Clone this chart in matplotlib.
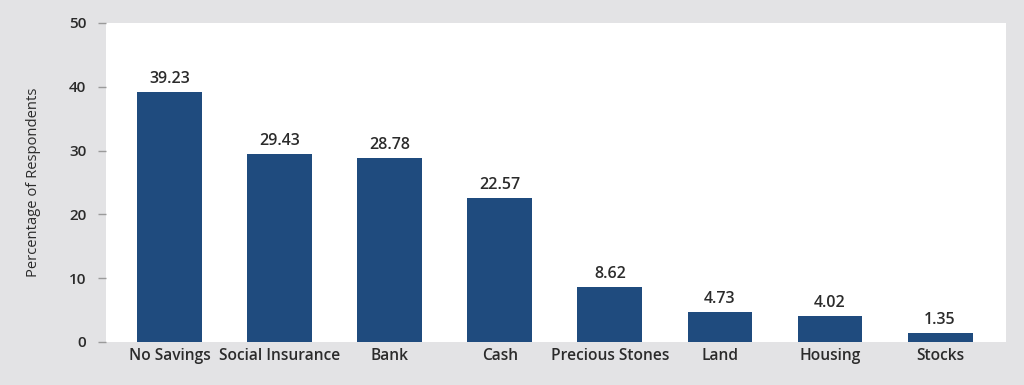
import matplotlib
matplotlib.use("Agg")
import matplotlib.pyplot as plt

categories = ["No Savings", "Social Insurance", "Bank", "Cash",
              "Precious Stones", "Land", "Housing", "Stocks"]
values = [39.23, 29.43, 28.78, 22.57, 8.62, 4.73, 4.02, 1.35]
yticks = [0, 10, 20, 30, 40, 50]

plt.rcParams['font.family'] = ['Open Sans', 'DejaVu Sans']

bg = '#e3e3e5'
bar_color = '#1f4b7e'
text_color = '#2b2b2b'

fig = plt.figure(figsize=(10.24, 3.85), dpi=100, facecolor=bg)
ax = fig.add_axes([0.1035, 0.1117, 0.879, 0.8286])
ax.set_facecolor('white')

x = list(range(len(categories)))
ax.bar(x, values, width=0.59, color=bar_color, zorder=2)
for xi, v in zip(x, values):
    ax.text(xi, v + 0.8, "%.2f" % v, ha='center', va='bottom',
            fontsize=11.5, color=text_color, fontweight='semibold')

ax.set_xlim(-0.58, 7.6)
ax.set_ylim(0, 50)
ax.set_yticks(yticks)
ax.set_xticks(x)
ax.set_xticklabels(categories)
for s in ax.spines.values():
    s.set_visible(False)
ax.tick_params(axis='y', length=6, width=1, color='#9a9a9a', pad=8,
               labelsize=11, labelcolor=text_color)
ax.tick_params(axis='x', length=0, pad=4, labelsize=11.2, labelcolor=text_color)
for lbl in ax.get_xticklabels() + ax.get_yticklabels():
    lbl.set_fontweight('semibold')
ax.set_ylabel("Percentage of Respondents", fontsize=10.6, color=text_color,
              labelpad=20)

fig.savefig("out.png", dpi=100, facecolor=bg)
